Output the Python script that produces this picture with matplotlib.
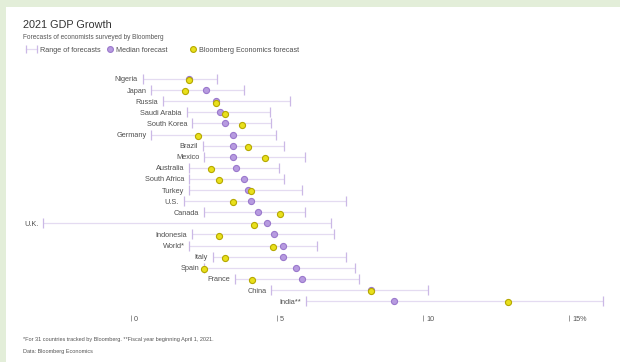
import matplotlib
matplotlib.use("Agg")
import matplotlib.pyplot as plt
from matplotlib.lines import Line2D
from matplotlib.patches import Rectangle

plt.rcParams['font.family'] = ['Liberation Sans', 'DejaVu Sans']

countries = ['Nigeria', 'Japan', 'Russia', 'Saudi Arabia', 'South Korea', 'Germany',
             'Brazil', 'Mexico', 'Australia', 'South Africa', 'Turkey', 'U.S.',
             'Canada', 'U.K.', 'Indonesia', 'World*', 'Italy', 'Spain', 'France',
             'China', 'India**']
range_low = [0.4, 0.7, 1.1, 1.9, 2.1, 0.7, 2.45, 2.5, 2.0, 2.0, 2.0, 1.8,
             2.5, -3.0, 2.1, 2.0, 2.8, 2.5, 3.55, 4.8, 6.0]
range_high = [2.95, 3.85, 5.45, 4.75, 4.8, 4.95, 5.25, 5.95, 5.05, 5.25, 5.85, 7.35,
              5.95, 6.85, 6.95, 6.35, 7.35, 7.65, 7.8, 10.15, 16.15]
median = [2.0, 2.55, 2.9, 3.05, 3.2, 3.5, 3.5, 3.5, 3.6, 3.85, 4.0, 4.1,
          4.35, 4.65, 4.9, 5.2, 5.2, 5.65, 5.85, 8.2, 9.0]
bbg_econ = [2.0, 1.85, 2.9, 3.2, 3.8, 2.3, 4.0, 4.6, 2.75, 3.0, 4.1, 3.5,
            5.1, 4.2, 3.0, 4.85, 3.2, 2.5, 4.15, 8.2, 12.9]
x_ticks = [0, 5, 10, 15]
x_tick_labels = ['0', '5', '10', '15%']

PURPLE = '#b79be0'
PURPLE_EDGE = '#9a78cc'
YELLOW = '#e9e01c'
YELLOW_EDGE = '#b5a800'
RANGE = '#e4dbf1'
CAP = '#cbb8e6'
TEXT = '#505050'

W, H = 620, 362
fig = plt.figure(figsize=(W / 100, H / 100), dpi=100)
fig.patch.set_facecolor('white')

# light green frame on the top and left edges
fig.add_artist(Rectangle((0, 1 - 7 / H), 1, 7 / H, transform=fig.transFigure,
                         facecolor='#e3eed9', edgecolor='none'))
fig.add_artist(Rectangle((0, 0), 6 / W, 1, transform=fig.transFigure,
                         facecolor='#e3eed9', edgecolor='none'))

ax = fig.add_axes([28.7 / W, 1 - 330 / H, 584.5 / W, 270 / H])
ax.set_xlim(-3.5, 16.5)
ax.set_ylim(22.6, -1.71)
ax.axis('off')

rows = list(range(len(countries)))
for i in rows:
    ax.plot([range_low[i], range_high[i]], [i, i], color=RANGE, lw=0.9,
            solid_capstyle='butt', zorder=1)
ax.plot(range_low, rows, ls='none', marker='|', ms=6.5, mew=0.9, color=CAP, zorder=2)
ax.plot(range_high, rows, ls='none', marker='|', ms=6.5, mew=0.9, color=CAP, zorder=2)
ax.plot(median, rows, ls='none', marker='o', ms=4.4, mfc=PURPLE, mec=PURPLE_EDGE,
        mew=0.8, zorder=3)
ax.plot(bbg_econ, [r + 0.12 for r in rows], ls='none', marker='o', ms=4.4, mfc=YELLOW,
        mec=YELLOW_EDGE, mew=0.8, zorder=4)

for i, name in enumerate(countries):
    ax.annotate(name, (range_low[i], i), xytext=(-3.5, 0), textcoords='offset points',
                ha='right', va='center_baseline', fontsize=5.3, color=TEXT)

# axis ticks: short bar with the label to its right
tick_row = 21.55
ax.plot(x_ticks, [tick_row] * len(x_ticks), ls='none', marker='|', ms=5, mew=0.6,
        color='#888888')
for v, lab in zip(x_ticks, x_tick_labels):
    ax.annotate(lab, (v, tick_row), xytext=(2, 0), textcoords='offset points',
                ha='left', va='center_baseline', fontsize=5.2, color='#555555')

# titles
fig.text(23 / W, 1 - 25 / H, '2021 GDP Growth', fontsize=7.8, color='#333333',
         va='center', ha='left')
fig.text(23 / W, 1 - 37.5 / H, 'Forecasts of economists surveyed by Bloomberg',
         fontsize=4.7, color='#555555', va='center', ha='left')

# legend
ly = 1 - 49 / H
fig.add_artist(Line2D([25.5 / W, 36.5 / W], [ly, ly], transform=fig.transFigure,
                      color=RANGE, lw=0.9))
fig.add_artist(Line2D([25.5 / W, 36.5 / W], [ly, ly], transform=fig.transFigure,
                      ls='none', marker='|', ms=6, mew=0.9, color=CAP))
fig.text(40.5 / W, ly, 'Range of forecasts', fontsize=5.2, color=TEXT,
         va='center_baseline')
fig.add_artist(Line2D([110 / W], [ly], transform=fig.transFigure, ls='none',
                      marker='o', ms=4.2, mfc=PURPLE, mec=PURPLE_EDGE, mew=0.8))
fig.text(115.5 / W, ly, 'Median forecast', fontsize=5.2, color=TEXT,
         va='center_baseline')
fig.add_artist(Line2D([193 / W], [ly], transform=fig.transFigure, ls='none',
                      marker='o', ms=4.2, mfc=YELLOW, mec=YELLOW_EDGE, mew=0.8))
fig.text(198.5 / W, ly, 'Bloomberg Economics forecast', fontsize=5.2, color=TEXT,
         va='center_baseline')

# footnotes
fig.text(23 / W, 1 - 340 / H,
         '*For 31 countries tracked by Bloomberg. **Fiscal year beginning April 1, 2021.',
         fontsize=4.0, color='#555555', va='center')
fig.text(23 / W, 1 - 351 / H, 'Data: Bloomberg Economics', fontsize=4.0,
         color='#555555', va='center')

fig.savefig('out.png', dpi=100)
